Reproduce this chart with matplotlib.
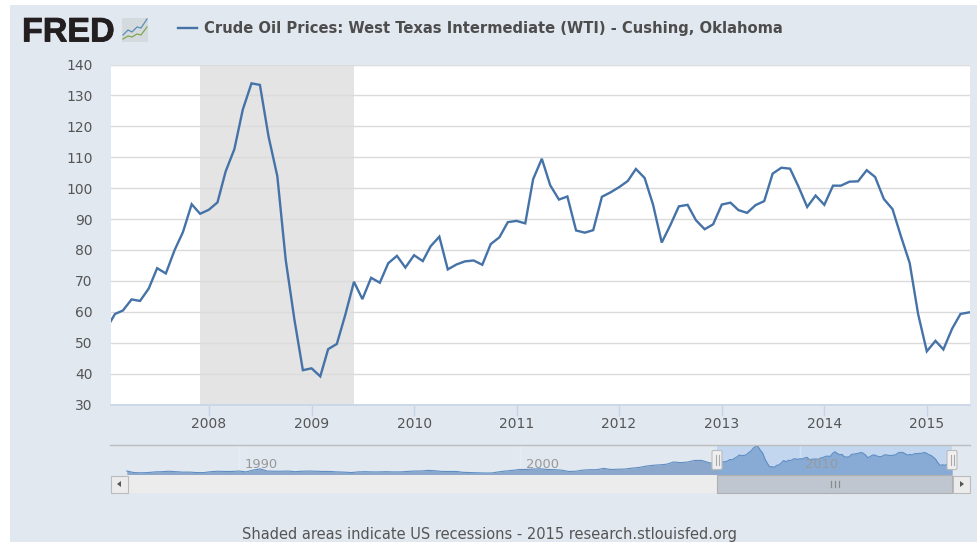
"""FRED crude oil (WTI) chart with navigator and scrollbar."""
import numpy as np
import pandas as pd
import matplotlib
matplotlib.use("Agg")
import matplotlib.pyplot as plt
import matplotlib.dates as mdates
import matplotlib.patheffects as pe
from matplotlib.patches import Rectangle, FancyBboxPatch, Polygon

W, H = 977, 542

# monthly WTI, Jan 2007 - Jun 2015
wti = [54.5, 59.3, 60.4, 64.0, 63.5, 67.5, 74.1, 72.4, 79.9, 85.8, 94.8, 91.7,
       93.0, 95.4, 105.4, 112.6, 125.4, 133.9, 133.4, 116.6, 103.9, 76.7, 57.4, 41.1,
       41.7, 39.1, 47.9, 49.6, 59.0, 69.7, 64.1, 71.0, 69.4, 75.7, 78.1, 74.3,
       78.3, 76.4, 81.2, 84.3, 73.7, 75.3, 76.3, 76.6, 75.2, 81.9, 84.1, 89.0,
       89.4, 88.6, 102.9, 109.5, 100.9, 96.3, 97.3, 86.3, 85.6, 86.4, 97.2, 98.6,
       100.3, 102.3, 106.2, 103.3, 94.7, 82.4, 87.9, 94.1, 94.6, 89.6, 86.7, 88.3,
       94.7, 95.3, 92.9, 92.0, 94.5, 95.8, 104.7, 106.6, 106.3, 100.5, 93.9, 97.6,
       94.6, 100.8, 100.8, 102.1, 102.2, 105.8, 103.6, 96.5, 93.2, 84.4, 75.8, 59.3,
       47.2, 50.6, 47.8, 54.5, 59.3, 59.8]
wti_start = "2007-01-01"

# quarterly history for the navigator, 1986 - 2006
history = [22, 15, 14, 15, 18, 19, 21, 19, 17, 17, 15, 15, 19, 21, 20, 20,
           22, 18, 26, 32, 22, 21, 21, 22, 19, 21, 22, 21, 20, 20, 18, 17,
           15, 18, 19, 18, 18, 19, 18, 18, 20, 22, 22, 25, 23, 20, 20, 20,
           16, 15, 14, 13, 13, 18, 22, 25, 29, 29, 31, 32, 29, 28, 26, 20,
           21, 26, 28, 28, 34, 29, 30, 31, 35, 38, 44, 48, 50, 53, 63, 60,
           63, 70, 70, 60]
history_start_year = 1986

recession = ("2007-12-01", "2009-06-01")
y_ticks = list(range(30, 150, 10))
x_years = list(range(2008, 2016))
nav_years = [1990, 2000, 2010]

title = "Crude Oil Prices: West Texas Intermediate (WTI) - Cushing, Oklahoma"
footer = "Shaded areas indicate US recessions - 2015 research.stlouisfed.org"

BG = "#E1E8F0"
LINE = "#4572A7"
TXT = "#555555"


def px_axes(fig, x0, x1, y0, y1, **kw):
    return fig.add_axes([x0 / W, 1 - y1 / H, (x1 - x0) / W, (y1 - y0) / H], **kw)


fig = plt.figure(figsize=(W / 100, H / 100), dpi=100, facecolor="white")

# page furniture lives in pixel coordinates
back = px_axes(fig, 0, W, 0, H, zorder=0)
back.set_xlim(0, W); back.set_ylim(H, 0); back.axis("off")
back.add_patch(Rectangle((10, 5), W - 10, H - 5, fc=BG, ec="none"))

# main chart
dates = pd.date_range(wti_start, periods=len(wti), freq="MS")
ax = px_axes(fig, 110.5, 970, 64.5, 404.5, zorder=1)
d0 = mdates.date2num(pd.Timestamp("2008-01-01"))
d1 = mdates.date2num(pd.Timestamp("2015-01-01"))
per_px = (d1 - d0) / (926.8 - 208.8)
xmin, xmax = d0 + (110.5 - 208.8) * per_px, d0 + (970 - 208.8) * per_px
ax.axvspan(pd.Timestamp(recession[0]), pd.Timestamp(recession[1]), fc="#E4E4E4", ec="none", zorder=0)
ax.plot(dates, wti, color=LINE, lw=1.7, zorder=3, solid_joinstyle="miter")
ax.set_xlim(xmin, xmax)
ax.set_ylim(30, 140)
ax.set_yticks(y_ticks)
ax.grid(axis="y", color="#DBDBDB", lw=1.0, zorder=1)
ax.set_axisbelow(True)
ax.set_xticks([pd.Timestamp(f"{y}-01-01") for y in x_years])
ax.set_xticklabels([str(y) for y in x_years])
ax.tick_params(axis="y", length=0, pad=13, labelsize=10, labelcolor=TXT)
ax.tick_params(axis="x", length=8, width=1, color="#C6D5E8", pad=1, labelsize=10, labelcolor=TXT)
for side in ["top", "left", "right"]:
    ax.spines[side].set_visible(False)
ax.spines["bottom"].set_color("#C6D5E8")
ax.spines["bottom"].set_linewidth(1.2)

# navigator
nav = px_axes(fig, 110, 970, 445, 475, zorder=1)
nav_x0, nav_scale = 239 - 1990 * 28.05, 28.05
nav.set_xlim((110 - nav_x0) / nav_scale, (970 - nav_x0) / nav_scale)
nav.set_ylim(4, 140)
nav.axis("off")
hist_years = history_start_year + np.arange(len(history)) / 4
wti_years = dates.year + (dates.month - 1) / 12
nav_x = np.concatenate([hist_years, wti_years])
nav_y = np.concatenate([history, wti])
sel0 = (717 - nav_x0) / nav_scale
sel1 = (952 - nav_x0) / nav_scale
nav.axvspan(sel0, sel1, fc="#C2D7EF", ec="none", zorder=0)
for y in nav_years:
    nav.axvline(y, color="#FFFFFF", alpha=0.25, lw=1, zorder=1)
nav.fill_between(nav_x, 4, nav_y, color="#8BA8CC", lw=0, zorder=2)
nav.fill_between(nav_x, 4, nav_y, where=nav_x >= sel0, color="#88ABD6", lw=0, zorder=2)
nav.plot(nav_x, nav_y, color="#5F8DC2", lw=0.8, zorder=3)

# overlay: legend, logo, scrollbar, footer
top = px_axes(fig, 0, W, 0, H, zorder=2)
top.set_xlim(0, W); top.set_ylim(H, 0); top.axis("off"); top.patch.set_alpha(0)

logo = top.text(22, 41.5, "FRED", family="Liberation Sans", weight="bold", fontsize=24.5,
                color="#231F20", va="baseline", ha="left")
logo.set_path_effects([pe.withStroke(linewidth=0.6, foreground="#231F20")])
top.add_patch(Rectangle((122, 18), 26, 23.5, fc="#D5DADF", ec="none"))
top.plot([123, 128, 132, 137, 141, 147], [35, 30, 32, 27, 28, 19], color="#5B8DB8", lw=0.9)
top.plot([123, 128, 132, 137, 141, 147], [39, 36, 37, 34, 35, 27], color="#7FA650", lw=0.9)

top.plot([178, 197], [28, 28], color=LINE, lw=1.7)
top.text(204, 28, title, fontsize=10.65, weight="bold", color="#4D4D4D", va="center", ha="left")

top.plot([110, 970], [445, 445], color="#BDBDBD", lw=1)
for y, px in zip(nav_years, [245, 526, 805]):
    top.text(px, 465, str(y), fontsize=9.4, color="#999999", va="center", ha="left")

# scrollbar
top.add_patch(Rectangle((127, 475), 826, 17.5, fc="#ECECEC", ec="none"))
top.add_patch(Rectangle((717, 475), 235, 17.5, fc="#BFC6D0", ec="#B0B0B0", lw=0.8))
top.add_patch(Rectangle((110.5, 475.5), 17, 17, fc="#ECECEC", ec="#BBBBBB", lw=0.8))
top.add_patch(Rectangle((952.5, 475.5), 17, 17, fc="#ECECEC", ec="#BBBBBB", lw=0.8))
top.add_patch(Polygon([[121, 481], [121, 487], [117, 484]], fc="#555555", ec="none"))
top.add_patch(Polygon([[960, 481], [960, 487], [964, 484]], fc="#555555", ec="none"))
for gx in [830.5, 834.5, 838.5]:
    top.plot([gx, gx], [481, 487], color="#8A8A8A", lw=0.9)

# navigator handles
for hx in [717, 952]:
    top.add_patch(FancyBboxPatch((hx - 4.5, 451), 9, 18, boxstyle="round,pad=0.5,rounding_size=1.5",
                                 fc="#EFEFEF", ec="#BBBBBB", lw=0.8))
    for dx in [-1.5, 1.5]:
        top.plot([hx + dx, hx + dx], [455, 465], color="#AAAAAA", lw=0.8)

top.text(490, 535, footer, fontsize=10.5, color=TXT, va="center", ha="center")

fig.savefig("out.png", dpi=100, facecolor="white")
